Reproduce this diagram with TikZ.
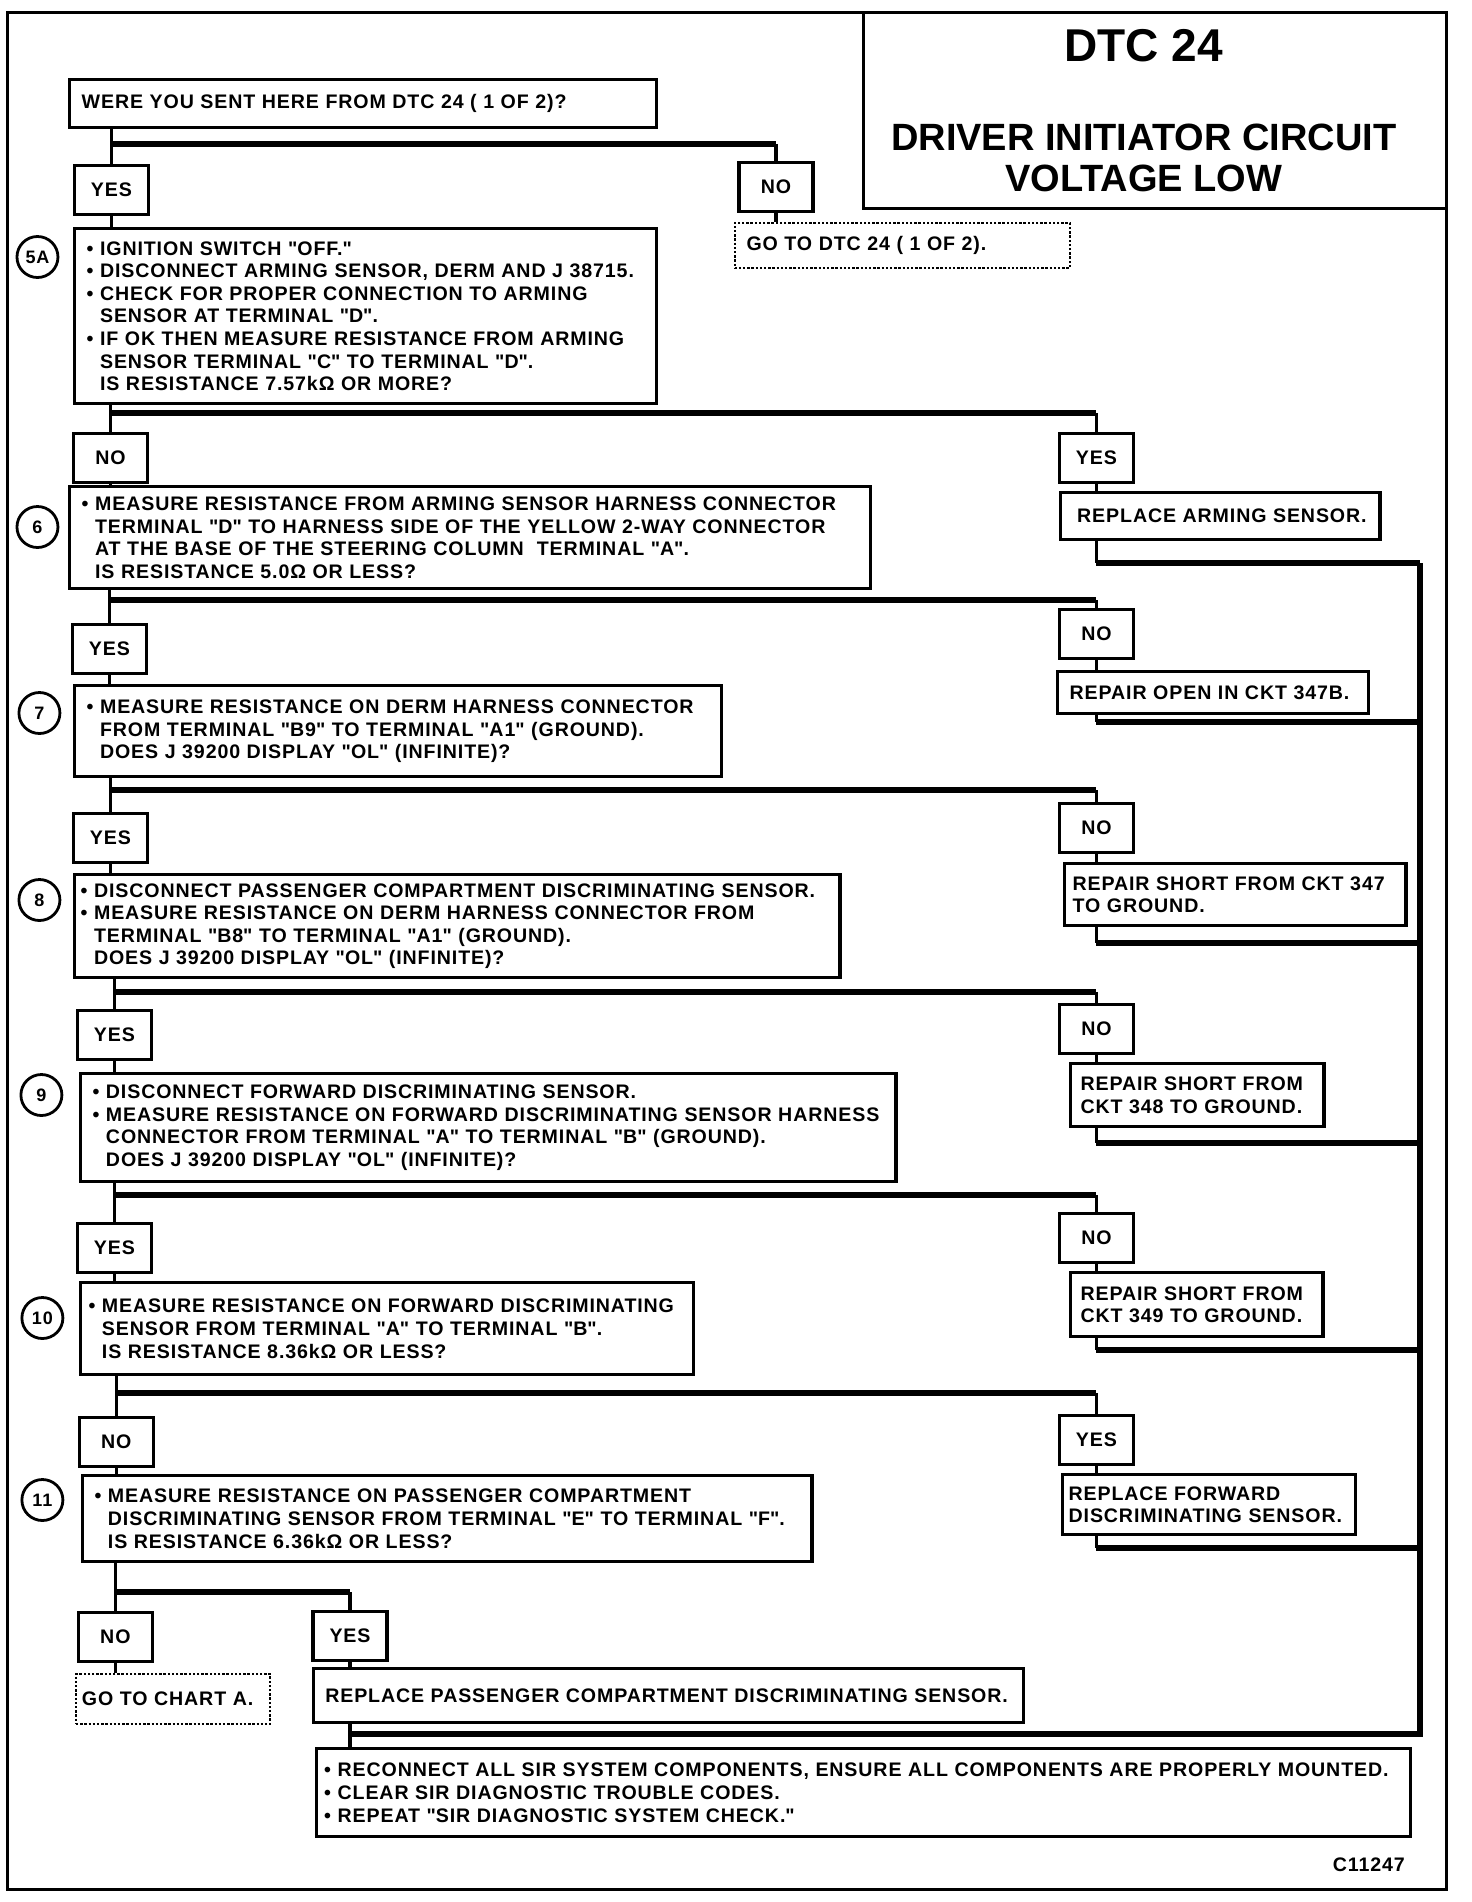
\documentclass[tikz,border=0pt]{standalone}
\usepackage{fontspec}
\setmainfont{Liberation Sans}[LetterSpace=4.5]
\hyphenpenalty=10000

\newcommand\ind{\hphantom{\textbullet\ }}
\newcommand\qq[1]{\textquotedbl#1\textquotedbl}

\tikzset{
  txt/.style={font=\bfseries\fontsize{9.8}{11.3}\selectfont},
  stepbox/.style={txt, draw, line width=1.7pt, fill=white, anchor=north west,
    align=left, inner xsep=6pt, inner ysep=2pt},
  gotobox/.style={txt, draw, line width=1pt, dash pattern=on 1.2pt off 0.9pt,
    anchor=north west, align=left, inner xsep=6pt, inner ysep=2pt},
  answer/.style={txt, draw, line width=1.7pt, fill=white, minimum width=37pt,
    minimum height=24.5pt, inner sep=1pt},
  stepno/.style={circle, draw, line width=1.4pt, minimum size=20.5pt, inner sep=0pt,
    font=\bfseries\fontsize{9}{9}\selectfont},
  titletxt/.style={font=\bfseries\fontsize{#1pt}{20.5pt}\selectfont\addfontfeature{LetterSpace=0}},
  wire/.style={line width=1.7pt},
  bar/.style={line width=2.8pt},
}

\begin{document}
\begin{tikzpicture}[x=0.493pt,y=-0.5pt]
  \useasboundingbox (0pt,0pt) rectangle (736pt,-951pt);

  % frame and title
  \draw[line width=1.5pt] (8,12) rectangle (1467,1889);
  \draw[line width=1.5pt] (876,12) -- (876,208) -- (1467,208);
  \node[titletxt=23] (dtc) at (1160,46) {DTC 24};
  \node[titletxt=19, align=center] (ttl) at (1160,158)
    {DRIVER INITIATOR CIRCUIT\\VOLTAGE LOW};

  % bars and feeds
  \coordinate (b1) at (0,144);
  \coordinate (b2) at (0,413);
  \coordinate (b3) at (0,600);
  \coordinate (b4) at (0,790);
  \coordinate (b5) at (0,992);
  \coordinate (b6) at (0,1195);
  \coordinate (b7) at (0,1393);
  \coordinate (b8) at (0,1592);
  \coordinate (f2) at (0,563);
  \coordinate (f3) at (0,722);
  \coordinate (f4) at (0,943);
  \coordinate (f5) at (0,1143);
  \coordinate (f6) at (0,1350);
  \coordinate (f7) at (0,1548);
  \coordinate (f8) at (0,1734);
  \coordinate (bus) at (1440,0);

  % question
  \node[stepbox, text width=281.3pt, minimum height=24pt] (q1) at (69,78)
    {WERE YOU SENT HERE FROM DTC 24 ( 1 OF 2)?};
  \node[answer] (yes1) at (113,190) {YES};
  \node[answer] (no1) at (787,187) {NO};
  \node[gotobox, text width=155.6pt, minimum height=22.5pt] (go1) at (744,222)
    {GO TO DTC 24 ( 1 OF 2).};

  % step 5A
  \node[stepbox, text width=278.9pt, minimum height=87.5pt] (s5a) at (74,227)
    {\textbullet\ IGNITION SWITCH \qq{OFF.}\\
     \textbullet\ DISCONNECT ARMING SENSOR, DERM AND J 38715.\\
     \textbullet\ CHECK FOR PROPER CONNECTION TO ARMING\\
     \ind SENSOR AT TERMINAL \qq{D}.\\
     \textbullet\ IF OK THEN MEASURE RESISTANCE FROM ARMING\\
     \ind SENSOR TERMINAL \qq{C} TO TERMINAL \qq{D}.\\
     \ind IS RESISTANCE 7.57kΩ OR MORE?};
  \node[stepno] (c5a) at (38,257) {5A};
  \node[answer] (no2) at (112,458) {NO};
  \node[answer] (yes2) at (1112,458) {YES};
  \node[stepbox, inner xsep=5pt, text width=149.7pt, minimum height=23.5pt] (r2) at (1074,491)
    {\ REPLACE ARMING SENSOR.};

  % step 6
  \node[stepbox, text width=388.3pt, minimum height=51pt] (s6) at (69,485)
    {\textbullet\ MEASURE RESISTANCE FROM ARMING SENSOR HARNESS CONNECTOR\\
     \ind TERMINAL \qq{D} TO HARNESS SIDE OF THE YELLOW 2-WAY CONNECTOR\\
     \ind AT THE BASE OF THE STEERING COLUMN\ \ TERMINAL \qq{A}.\\
     \ind IS RESISTANCE 5.0Ω OR LESS?};
  \node[stepno] (c6) at (38,527) {6};
  \node[answer] (yes3) at (111,649) {YES};
  \node[answer] (no3) at (1112,634) {NO};
  \node[stepbox, text width=143.3pt, minimum height=21pt] (r3) at (1071,670)
    {REPAIR OPEN IN CKT 347B.};

  % step 7
  \node[stepbox, text width=311.4pt, minimum height=45.5pt] (s7) at (74,684)
    {\textbullet\ MEASURE RESISTANCE ON DERM HARNESS CONNECTOR\\
     \ind FROM TERMINAL \qq{B9} TO TERMINAL \qq{A1} (GROUND).\\
     \ind DOES J 39200 DISPLAY \qq{OL} (INFINITE)?};
  \node[stepno] (c7) at (40,713) {7};
  \node[answer] (yes4) at (112,838) {YES};
  \node[answer] (no4) at (1112,828) {NO};
  \node[stepbox, inner xsep=4pt, text width=162.6pt, minimum height=31pt] (r4) at (1078,862)
    {REPAIR SHORT FROM CKT 347\\TO GROUND.};

  % step 8
  \node[stepbox, inner xsep=3pt, text width=376.6pt, minimum height=51.5pt] (s8) at (74,873)
    {\textbullet\ DISCONNECT PASSENGER COMPARTMENT DISCRIMINATING SENSOR.\\
     \textbullet\ MEASURE RESISTANCE ON DERM HARNESS CONNECTOR FROM\\
     \ind TERMINAL \qq{B8} TO TERMINAL \qq{A1} (GROUND).\\
     \ind DOES J 39200 DISPLAY \qq{OL} (INFINITE)?};
  \node[stepno] (c8) at (40,900) {8};
  \node[answer] (yes5) at (116,1035) {YES};
  \node[answer] (no5) at (1112,1029) {NO};
  \node[stepbox, inner xsep=5pt, text width=116.7pt, minimum height=31.5pt] (r5) at (1084,1062)
    {REPAIR SHORT FROM\\CKT 348 TO GROUND.};

  % step 9
  \node[stepbox, text width=395.7pt, minimum height=54pt] (s9) at (80,1072)
    {\textbullet\ DISCONNECT FORWARD DISCRIMINATING SENSOR.\\
     \textbullet\ MEASURE RESISTANCE ON FORWARD DISCRIMINATING SENSOR HARNESS\\
     \ind CONNECTOR FROM TERMINAL \qq{A} TO TERMINAL \qq{B} (GROUND).\\
     \ind DOES J 39200 DISPLAY \qq{OL} (INFINITE)?};
  \node[stepno] (c9) at (42,1095) {9};
  \node[answer] (yes6) at (116,1248) {YES};
  \node[answer] (no6) at (1112,1238) {NO};
  \node[stepbox, inner xsep=5pt, text width=116.2pt, minimum height=32pt] (r6) at (1084,1271)
    {REPAIR SHORT FROM\\CKT 349 TO GROUND.};

  % step 10
  \node[stepbox, inner xsep=4pt, text width=298.6pt, minimum height=46pt] (s10) at (80,1281)
    {\textbullet\ MEASURE RESISTANCE ON FORWARD DISCRIMINATING\\
     \ind SENSOR FROM TERMINAL \qq{A} TO TERMINAL \qq{B}.\\
     \ind IS RESISTANCE 8.36kΩ OR LESS?};
  \node[stepno] (c10) at (43,1318) {10};
  \node[answer] (no7) at (118,1442) {NO};
  \node[answer] (yes7) at (1112,1440) {YES};
  \node[stepbox, inner xsep=3pt, text width=140.4pt, minimum height=30pt] (r7) at (1076,1473)
    {REPLACE FORWARD\\DISCRIMINATING SENSOR.};

  % step 11
  \node[stepbox, text width=352.8pt, minimum height=43pt] (s11) at (82,1474)
    {\textbullet\ MEASURE RESISTANCE ON PASSENGER COMPARTMENT\\
     \ind DISCRIMINATING SENSOR FROM TERMINAL \qq{E} TO TERMINAL \qq{F}.\\
     \ind IS RESISTANCE 6.36kΩ OR LESS?};
  \node[stepno] (c11) at (43,1500) {11};
  \node[answer] (no8) at (117,1637) {NO};
  \node[answer] (yes8) at (355,1636) {YES};
  \node[gotobox, inner xsep=3pt, text width=91.1pt, minimum height=25pt] (go8) at (76,1673)
    {GO TO CHART A.};
  \node[stepbox, text width=343pt, minimum height=27pt] (r8) at (316,1667)
    {REPLACE PASSENGER COMPARTMENT DISCRIMINATING SENSOR.};

  % last step
  \node[stepbox, inner xsep=4pt, text width=539.2pt, minimum height=44pt] (fin) at (319,1747)
    {\textbullet\ RECONNECT ALL SIR SYSTEM COMPONENTS, ENSURE ALL COMPONENTS ARE PROPERLY MOUNTED.\\
     \textbullet\ CLEAR SIR DIAGNOSTIC TROUBLE CODES.\\
     \textbullet\ REPEAT \qq{SIR DIAGNOSTIC SYSTEM CHECK.}};
  \node[txt, anchor=east] (code) at (1432,1865) {C11247};

  % left column
  \draw[wire] (q1.south -| yes1) -- (yes1.north);
  \draw[wire] (yes1.south) -- (yes1 |- s5a.north);
  \draw[wire] (s5a.south -| no2) -- (no2.north);
  \draw[wire] (no2.south) -- (no2 |- s6.north);
  \draw[wire] (s6.south -| yes3) -- (yes3.north);
  \draw[wire] (yes3.south) -- (yes3 |- s7.north);
  \draw[wire] (s7.south -| yes4) -- (yes4.north);
  \draw[wire] (yes4.south) -- (yes4 |- s8.north);
  \draw[wire] (s8.south -| yes5) -- (yes5.north);
  \draw[wire] (yes5.south) -- (yes5 |- s9.north);
  \draw[wire] (s9.south -| yes6) -- (yes6.north);
  \draw[wire] (yes6.south) -- (yes6 |- s10.north);
  \draw[wire] (s10.south -| no7) -- (no7.north);
  \draw[wire] (no7.south) -- (no7 |- s11.north);
  \draw[wire] (s11.south -| no8) -- (no8.north);
  \draw[wire] (no8.south) -- (no8 |- go8.north);

  % branch bars
  \draw[bar] (yes1 |- b1) -- (no1 |- b1);
  \draw[bar] (no2 |- b2) -- (yes2 |- b2);
  \draw[bar] (yes3 |- b3) -- (no3 |- b3);
  \draw[bar] (yes4 |- b4) -- (no4 |- b4);
  \draw[bar] (yes5 |- b5) -- (no5 |- b5);
  \draw[bar] (yes6 |- b6) -- (no6 |- b6);
  \draw[bar] (no7 |- b7) -- (yes7 |- b7);
  \draw[bar] (no8 |- b8) -- (yes8 |- b8);

  % right column
  \draw[wire] (no1 |- b1) -- (no1.north);
  \draw[wire] (no1.south) -- (no1 |- go1.north);
  \draw[wire] (yes2 |- b2) -- (yes2.north);
  \draw[wire] (yes2.south) -- (yes2 |- r2.north);
  \draw[wire] (r2.south -| yes2) -- (yes2 |- f2);
  \draw[wire] (no3 |- b3) -- (no3.north);
  \draw[wire] (no3.south) -- (no3 |- r3.north);
  \draw[wire] (r3.south -| no3) -- (no3 |- f3);
  \draw[wire] (no4 |- b4) -- (no4.north);
  \draw[wire] (no4.south) -- (no4 |- r4.north);
  \draw[wire] (r4.south -| no4) -- (no4 |- f4);
  \draw[wire] (no5 |- b5) -- (no5.north);
  \draw[wire] (no5.south) -- (no5 |- r5.north);
  \draw[wire] (r5.south -| no5) -- (no5 |- f5);
  \draw[wire] (no6 |- b6) -- (no6.north);
  \draw[wire] (no6.south) -- (no6 |- r6.north);
  \draw[wire] (r6.south -| no6) -- (no6 |- f6);
  \draw[wire] (yes7 |- b7) -- (yes7.north);
  \draw[wire] (yes7.south) -- (yes7 |- r7.north);
  \draw[wire] (r7.south -| yes7) -- (yes7 |- f7);
  \draw[wire] (yes8 |- b8) -- (yes8.north);
  \draw[wire] (yes8.south) -- (yes8 |- r8.north);
  \draw[wire] (r8.south -| yes8) -- (yes8 |- fin.north);

  % return bus
  \draw[bar] (yes2 |- f2) -- (bus |- f2);
  \draw[bar] (no3 |- f3) -- (bus |- f3);
  \draw[bar] (no4 |- f4) -- (bus |- f4);
  \draw[bar] (no5 |- f5) -- (bus |- f5);
  \draw[bar] (no6 |- f6) -- (bus |- f6);
  \draw[bar] (yes7 |- f7) -- (bus |- f7);
  \draw[bar, line join=miter] (bus |- f2) -- (bus |- f8) -- (yes8 |- f8);
\end{tikzpicture}
\end{document}
